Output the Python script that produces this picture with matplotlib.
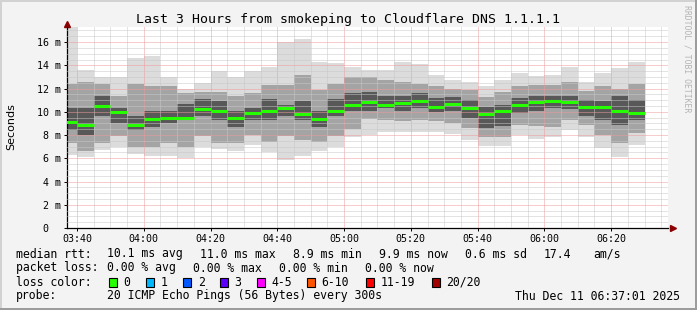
import numpy as np
import pandas as pd
import matplotlib
matplotlib.use("Agg")
import matplotlib.pyplot as plt
import matplotlib.dates as mdates
from matplotlib.patches import Rectangle
from matplotlib.ticker import MultipleLocator, FuncFormatter

# 5 minute slots, first one starts 03:35 (partly outside the window)
slot_start = pd.date_range("2025-12-11 03:35", periods=35, freq="5min")

# smoke levels per slot (ms): max, upper band, upper core, median, lower core, lower band, min
ping_max = [17.3, 13.6, 13.0, 13.0, 14.6, 14.8, 13.0, 12.0, 12.5, 13.5, 13.0, 13.5,
            13.85, 16.0, 16.3, 14.3, 14.2, 13.9, 13.6, 13.6, 14.3, 14.15, 13.15, 12.75,
            12.6, 12.2, 12.7, 13.35, 13.05, 13.2, 13.85, 12.6, 13.35, 13.8, 14.3]
ping_hi85 = [12.4, 12.6, 12.4, 11.4, 12.4, 12.2, 12.2, 11.6, 11.7, 11.7, 11.4, 11.6,
             12.3, 12.3, 13.2, 11.9, 12.4, 13.0, 13.0, 12.7, 12.6, 12.4, 12.2, 12.0,
             11.9, 11.3, 11.7, 12.2, 12.3, 12.3, 12.6, 11.8, 12.2, 12.0, 12.4]
ping_hi65 = [10.3, 10.3, 11.4, 10.3, 9.6, 10.1, 10.1, 10.7, 11.1, 10.95, 10.1, 10.3,
             11.1, 10.6, 10.9, 10.1, 11.1, 11.6, 11.7, 11.4, 11.4, 11.6, 11.2, 11.3,
             11.0, 10.4, 10.6, 11.2, 11.4, 11.4, 11.4, 11.0, 10.9, 11.4, 11.0]
ping_med = [9.1, 8.9, 10.5, 10.0, 8.9, 9.4, 9.45, 9.45, 10.25, 10.1, 9.45, 9.9,
            10.05, 10.35, 9.8, 9.4, 10.05, 10.6, 10.85, 10.6, 10.75, 10.95, 10.45, 10.65,
            10.3, 9.8, 10.05, 10.6, 10.85, 10.95, 10.85, 10.4, 10.4, 10.1, 9.9]
ping_lo35 = [8.4, 8.0, 9.6, 9.0, 8.4, 8.7, 9.0, 9.3, 9.6, 9.3, 8.7, 9.3,
             9.3, 9.6, 9.3, 8.7, 9.6, 10.1, 10.1, 10.3, 10.1, 10.3, 10.0, 10.1,
             9.5, 8.6, 8.8, 9.9, 10.1, 10.3, 10.2, 9.6, 9.3, 8.9, 9.3]
ping_lo15 = [7.3, 6.6, 7.3, 7.9, 7.0, 7.0, 7.3, 7.0, 7.9, 7.3, 7.3, 8.0,
             7.4, 7.9, 7.6, 7.4, 7.9, 8.5, 9.4, 9.3, 9.2, 9.3, 9.2, 9.0,
             8.6, 7.8, 7.8, 8.9, 8.8, 8.7, 9.3, 8.9, 8.0, 7.3, 8.2]
ping_min = [6.3, 6.1, 6.7, 7.0, 6.4, 6.2, 6.2, 6.05, 7.0, 6.8, 6.6, 7.15,
            6.5, 5.85, 6.2, 6.6, 7.0, 7.8, 8.0, 8.3, 8.3, 8.3, 8.3, 8.1,
            7.6, 7.05, 7.05, 8.0, 7.7, 7.8, 8.4, 7.85, 6.85, 6.15, 7.15]

loss_labels = ["0", "1", "2", "3", "4-5", "6-10", "11-19", "20/20"]
loss_colors = ["#26ff00", "#00b8ff", "#0059ff", "#5e00ff", "#ff00ff", "#ff5500", "#ff0000", "#a10000"]

W, H = 697, 310


def fx(x):
    return x / W


def fy(y):
    return 1 - y / H


fig = plt.figure(figsize=(W / 100, H / 100), dpi=100, facecolor="#f3f3f3")
ax = fig.add_axes([fx(67), fy(228), fx(668) - fx(67), fy(27) - fy(228)])
ax.set_facecolor("white")

x0 = mdates.date2num(slot_start)
width = 5 / 1440
mx = np.array(ping_max)
h85, h65, md = np.array(ping_hi85), np.array(ping_hi65), np.array(ping_med)
l35, l15, mn = np.array(ping_lo35), np.array(ping_lo15), np.array(ping_min)

# smoke, lighter outside, darker near median
ax.bar(x0, mx - mn, bottom=mn, width=width, align="edge", color="#dcdcdc", lw=0, zorder=1)
ax.bar(x0, h85 - l15, bottom=l15, width=width, align="edge", color="#a4a4a4", lw=0, zorder=1)
ax.bar(x0, h65 - l35, bottom=l35, width=width, align="edge", color="#585858", lw=0, zorder=1)
ax.hlines(md, x0, x0 + width, colors=loss_colors[0], lw=2.2, zorder=3)

t_start = mdates.date2num(pd.Timestamp("2025-12-11 03:37:01"))
t_end = mdates.date2num(pd.Timestamp("2025-12-11 06:37:01"))
ax.set_xlim(t_start, t_end)
ax.set_ylim(0, 17.3)

ax.xaxis.set_major_locator(mdates.MinuteLocator(byminute=[0, 20, 40]))
ax.xaxis.set_minor_locator(mdates.MinuteLocator(byminute=range(0, 60, 5)))
ax.xaxis.set_major_formatter(mdates.DateFormatter("%H:%M"))
ax.yaxis.set_major_locator(MultipleLocator(2))
ax.yaxis.set_minor_locator(MultipleLocator(0.5))
ax.yaxis.set_major_formatter(FuncFormatter(lambda v, p: "0  " if v == 0 else "%d m" % v))

ax.set_axisbelow(False)
ax.grid(which="minor", color="#c8c8c8", ls=(0, (1, 1)), lw=0.72)
ax.grid(which="major", color="#f09a9a", ls=(0, (1, 1)), lw=0.72)

for s in ["top", "right"]:
    ax.spines[s].set_visible(False)
for s in ["left", "bottom"]:
    ax.spines[s].set_linewidth(0.9)
ax.tick_params(which="major", length=2, width=0.7, labelsize=7.2, pad=2.5)
ax.tick_params(which="minor", length=0)
for lab in ax.get_xticklabels() + ax.get_yticklabels():
    lab.set_family("DejaVu Sans Mono")

# axis arrows
ax.plot([1.008], [0], marker=">", ms=4, color="#8b0000", transform=ax.transAxes, clip_on=False)
ax.plot([0], [1.015], marker="^", ms=4, color="#8b0000", transform=ax.transAxes, clip_on=False)

mono = "DejaVu Sans Mono"
fig.text(0.5, fy(19), "Last 3 Hours from smokeping to Cloudflare DNS 1.1.1.1",
         ha="center", va="center", family=mono, size=9.5)
fig.text(fx(11), fy(127), "Seconds", rotation=90, ha="center", va="center", size=8)
fig.text(fx(687), fy(59), "RRDTOOL / TOBI OETIKER", rotation=-90, ha="center", va="center",
         family=mono, size=5.9, color="#b4b4b4")

ls = 8.3
row1 = [(16, "median rtt:"), (107, "10.1 ms avg"), (200, "11.0 ms max"), (293, "8.9 ms min"),
        (379, "9.9 ms now"), (465, "0.6 ms sd"), (544, "17.4"), (593, "am/s")]
row2 = [(16, "packet loss:"), (107, "0.00 % avg"), (193, "0.00 % max"), (279, "0.00 % min"),
        (365, "0.00 % now")]
for x, t in row1:
    fig.text(fx(x), fy(254), t, ha="left", va="center", family=mono, size=ls)
for x, t in row2:
    fig.text(fx(x), fy(268), t, ha="left", va="center", family=mono, size=ls)

fig.text(fx(16), fy(282), "loss color:", ha="left", va="center", family=mono, size=ls)
box_x = [108.5, 145.7, 183, 219.5, 256.5, 306.7, 365.5, 431.5]
for bx, lab, col in zip(box_x, loss_labels, loss_colors):
    fig.add_artist(Rectangle((fx(bx), fy(286.5)), fx(8), 9 / H, transform=fig.transFigure,
                             facecolor=col, edgecolor="black", lw=0.8))
    fig.text(fx(bx + 15), fy(282), lab, ha="left", va="center", family=mono, size=ls)

fig.text(fx(16), fy(296), "probe:", ha="left", va="center", family=mono, size=ls)
fig.text(fx(107), fy(296), "20 ICMP Echo Pings (56 Bytes) every 300s", ha="left", va="center",
         family=mono, size=ls)
fig.text(fx(680), fy(296), "Thu Dec 11 06:37:01 2025", ha="right", va="center", family=mono, size=ls)

# frame around the image
fig.add_artist(Rectangle((0, 1 - 2 / H), 1, 2 / H, transform=fig.transFigure, color="#d2d2d2", lw=0))
fig.add_artist(Rectangle((0, 0), 2 / W, 1, transform=fig.transFigure, color="#d2d2d2", lw=0))
fig.add_artist(Rectangle((0, 0), 1, 2 / H, transform=fig.transFigure, color="#9c9c9c", lw=0))
fig.add_artist(Rectangle((1 - 2 / W, 0), 2 / W, 1, transform=fig.transFigure, color="#9c9c9c", lw=0))

fig.savefig("out.png", dpi=100, facecolor=fig.get_facecolor())
